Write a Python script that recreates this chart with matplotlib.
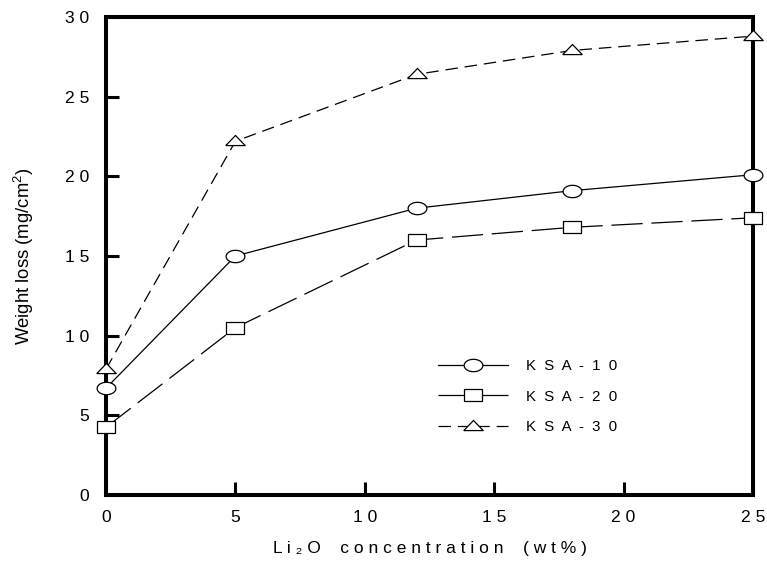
import numpy as np
import matplotlib
matplotlib.use("Agg")
import matplotlib.pyplot as plt

plt.rcParams['font.family'] = ['Liberation Sans', 'DejaVu Sans']
plt.rcParams['mathtext.fontset'] = 'custom'
plt.rcParams['mathtext.rm'] = 'Liberation Sans'
plt.rcParams['mathtext.it'] = 'Liberation Sans'

x = [0, 5, 12, 18, 25]
ksa10 = [6.7, 15.0, 18.0, 19.1, 20.1]
ksa20 = [4.25, 10.5, 16.0, 16.8, 17.4]
ksa30 = [7.9, 22.2, 26.4, 27.9, 28.8]
series_labels = ["K  S  A  -  1  0", "K  S  A  -  2  0", "K  S  A  -  3  0"]
xticks = [0, 5, 10, 15, 20, 25]
xtick_labels = ["0", "5", "1 0", "1 5", "2 0", "2 5"]
yticks = [0, 5, 10, 15, 20, 25, 30]
ytick_labels = ["0", "5", "1 0", "1 5", "2 0", "2 5", "3 0"]

# custom marker shapes (wider than tall)
t = np.linspace(0, 2 * np.pi, 60)
ellipse = list(zip(np.cos(t), 0.66 * np.sin(t)))
rect = [(-1, -0.65), (1, -0.65), (1, 0.65), (-1, 0.65), (-1, -0.65)]
tri = [(-1, -0.42), (1, -0.42), (0, 0.62), (-1, -0.42)]

fig = plt.figure(figsize=(7.67, 5.67), dpi=100)
ax = fig.add_axes([0.1382, 0.1270, 0.9817 - 0.1382, 0.9700 - 0.1270])

common = dict(color='black', lw=0.9, mfc='white', mec='black', mew=0.9, clip_on=False, zorder=5)
ax.plot(x, ksa10, ls='-', marker=ellipse, ms=13.5, label=series_labels[0], **common)
ax.plot(x, ksa20, ls=(0, (25, 7)), marker=rect, ms=12.5, label=series_labels[1], **common)
ax.plot(x, ksa30, ls=(0, (10, 5.5)), marker=tri, ms=14, label=series_labels[2], **common)

ax.set_xlim(0, 25)
ax.set_ylim(0, 30)
ax.set_xticks(xticks)
ax.set_xticklabels(xtick_labels)
ax.set_yticks(yticks)
ax.set_yticklabels(ytick_labels)

for s in ax.spines.values():
    s.set_linewidth(2.9)
ax.tick_params(axis='both', direction='in', length=9.5, width=2.2, labelsize=12.6,
               top=False, right=False)
ax.tick_params(axis='y', pad=12)
ax.tick_params(axis='x', pad=11)

ax.set_ylabel("Weight loss (mg/cm$^2$)", fontsize=13.3, labelpad=21)
ax.set_xlabel("L i \u2082 O    c o n c e n t r a t i o n    ( w t % )", fontsize=12.5, labelpad=11)

leg = ax.legend(loc='upper left', bbox_to_anchor=(0.513, 0.284), frameon=False,
                fontsize=10.8, handlelength=4.7, handletextpad=1.2,
                labelspacing=1.1, borderpad=0, borderaxespad=0)

fig.savefig("out.png", dpi=100)
